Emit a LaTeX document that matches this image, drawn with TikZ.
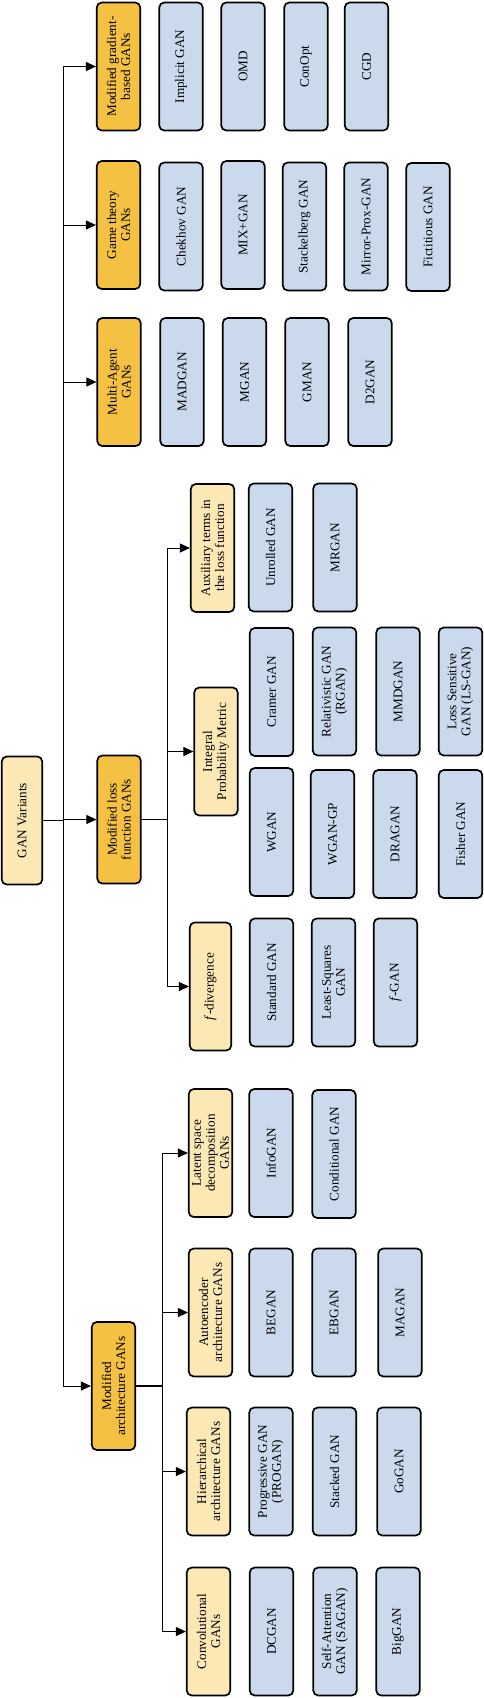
\documentclass[tikz,border=0pt]{standalone}
\usepackage{fontspec}
\setmainfont{Liberation Serif}
\usetikzlibrary{arrows.meta}
\definecolor{cOrange}{RGB}{245,193,67}
\definecolor{cCream}{RGB}{252,232,180}
\definecolor{cBlue}{RGB}{202,218,236}
\begin{document}
\begin{tikzpicture}[x=1pt,y=-1pt,
  box/.style={draw=black, line width=1.7pt, rounded corners=5pt, rotate=90,
    minimum width=128pt, minimum height=43.5pt, inner sep=1pt, align=center,
    font=\fontsize{13.2}{14}\selectfont},
  lvlone/.style={box, fill=cOrange},
  lvltwo/.style={box, fill=cCream},
  leaf/.style={box, fill=cBlue},
  ln/.style={line width=1pt},
  arr/.style={line width=1pt, -{Triangle[length=10pt,width=9pt]}}]
\useasboundingbox (0,0) rectangle (484,1698);

% root and level one
\node[box, fill=cCream, minimum height=40.5pt] (root) at (22,820.5) {GAN Variants};
\node[lvlone] (mg)  at (118.5,66.5) {Modified gradient-\\based GANs};
\node[lvlone] (gt)  at (118.5,225) {Game theory\\GANs};
\node[lvlone] (mag) at (119,382) {Multi-Agent\\GANs};
\node[lvlone] (ml)  at (119,819.5) {Modified loss\\function GANs};
\node[lvlone] (ma)  at (113.5,1386) {Modified\\architecture GANs};

% gradient-based leaves
\node[leaf] (g1) at (181,66.5) {Implicit GAN};
\node[leaf] (g2) at (243,66.5) {OMD};
\node[leaf] (g3) at (306,66.5) {ConOpt};
\node[leaf] (g4) at (366.5,66.5) {CGD};
% game theory leaves
\node[leaf] (t1) at (181,226.5) {Chekhov GAN};
\node[leaf] (t2) at (243,225) {MIX+GAN};
\node[leaf] (t3) at (304.5,226.5) {Stackelberg GAN};
\node[leaf] (t4) at (366,226.5) {Mirror-Prox-GAN};
\node[leaf] (t5) at (428,227) {Fictitious GAN};
% multi-agent leaves
\node[leaf] (a1) at (182,382) {MADGAN};
\node[leaf] (a2) at (244.5,382) {MGAN};
\node[leaf] (a3) at (307,382) {GMAN};
\node[leaf] (a4) at (370,382) {D2GAN};

% loss function branch
\node[lvltwo] (aux) at (212.5,548) {Auxiliary terms in\\the loss function};
\node[lvltwo] (ipm) at (216,751.5) {Integral\\Probability Metric};
\node[lvltwo, minimum height=41.5pt] (fd) at (210.5,986.5) {\textit{f}-divergence};
\node[leaf] (x1) at (270.5,547.5) {Unrolled GAN};
\node[leaf] (x2) at (335,547.5) {MRGAN};
\node[leaf] (p1) at (271.5,692) {Cramer GAN};
\node[leaf] (p2) at (334.5,691.5) {Relativistic GAN\\(RGAN)};
\node[leaf] (p3) at (398,691.5) {MMDGAN};
\node[leaf] (p4) at (460.5,691.5) {Loss Sensitive\\GAN (LS-GAN)};
\node[leaf] (q1) at (271.5,832) {WGAN};
\node[leaf] (q2) at (332.5,834) {WGAN-GP};
\node[leaf] (q3) at (395,834) {DRAGAN};
\node[leaf] (q4) at (460.5,834) {Fisher GAN};
\node[leaf] (f1) at (271.5,982.5) {Standard GAN};
\node[leaf] (f2) at (333.5,982.5) {Least-Squares\\GAN};
\node[leaf] (f3) at (395.5,982.5) {\textit{f}-GAN};

% architecture branch
\node[lvltwo] (lat)  at (210.5,1153) {Latent space\\decomposition\\GANs};
\node[lvltwo] (ae)   at (210.5,1312.5) {Autoencoder\\architecture GANs};
\node[lvltwo] (hier) at (208.5,1471.5) {Hierarchical\\architecture GANs};
\node[lvltwo] (conv) at (208.5,1631.5) {Convolutional\\GANs};
\node[leaf] (l1) at (271,1153) {InfoGAN};
\node[leaf] (l2) at (334,1154) {Conditional GAN};
\node[leaf] (e1) at (271,1312.5) {BEGAN};
\node[leaf] (e2) at (334,1312.5) {EBGAN};
\node[leaf] (e3) at (400,1312.5) {MAGAN};
\node[leaf] (h1) at (271,1471.5) {Progressive GAN\\(PROGAN)};
\node[leaf] (h2) at (334.5,1471.5) {Stacked GAN};
\node[leaf] (h3) at (399,1471.5) {GoGAN};
\node[leaf] (c1) at (271.5,1631.5) {DCGAN};
\node[leaf] (c2) at (335,1631.5) {Self-Attention\\GAN (SAGAN)};
\node[leaf] (c3) at (398,1631.5) {BigGAN};

% main spine
\coordinate (sp) at (63,0);
\draw[ln] (sp |- mg.north) -- (sp |- ma.north);
\draw[ln] (root.south) -- (sp |- root.south);
\foreach \n in {mg,gt,mag,ml,ma} {\draw[arr] (sp |- \n.north) -- (\n.north);}

% loss sub-spine
\coordinate (ls) at (167,0);
\draw[line width=1.3pt] (ml.south) -- (ls |- ml.south);
\draw[ln] (ls |- aux.north) -- (ls |- fd.north);
\foreach \n in {aux,ipm,fd} {\draw[arr] (ls |- \n.north) -- (\n.north);}

% architecture sub-spine
\coordinate (as) at (162,0);
\draw[line width=1.3pt] (ma.south) -- (as |- ma.south);
\draw[ln] (as |- lat.north) -- (as |- conv.north);
\foreach \n in {lat,ae,hier,conv} {\draw[arr] (as |- \n.north) -- (\n.north);}
\end{tikzpicture}
\end{document}
